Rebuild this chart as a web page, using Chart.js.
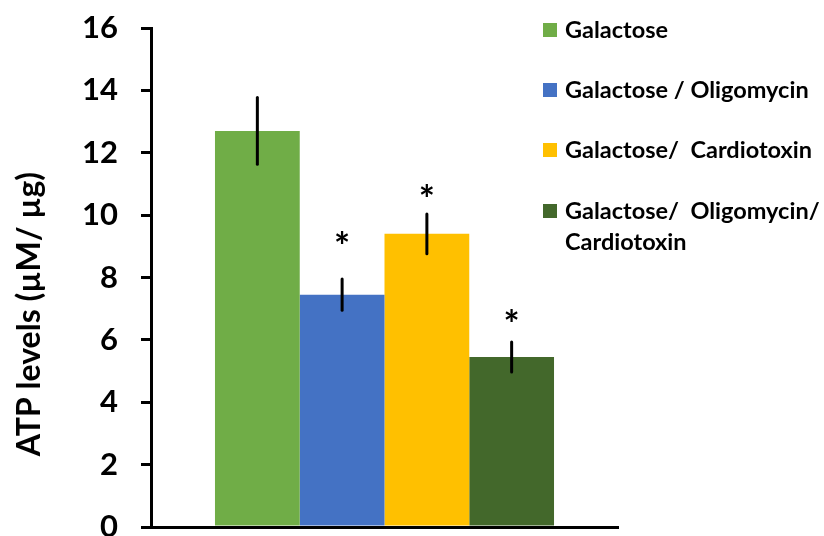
<!DOCTYPE html>
<html>
<head>
<meta charset="utf-8">
<script src="https://cdn.jsdelivr.net/npm/chart.js@4.4.0/dist/chart.umd.min.js"></script>
<style>
  html, body { margin: 0; padding: 0; background: #fff; }
  #wrap { width: 824px; height: 536px; }
</style>
</head>
<body>
<div id="wrap"><canvas id="myChart" width="824" height="536"></canvas></div>
<script>
// groups shown in the legend (last one wraps onto two lines)
const groups = ["Galactose", "Galactose / Oligomycin", "Galactose/  Cardiotoxin", "Galactose/  Oligomycin/ Cardiotoxin"];
const legendLines = [["Galactose"], ["Galactose / Oligomycin"], ["Galactose/  Cardiotoxin"], ["Galactose/  Oligomycin/", "Cardiotoxin"]];
const atpMeans = [12.7, 7.45, 9.4, 5.45];
const atpErrors = [1.07, 0.5, 0.64, 0.48];
const starAt = [null, 9.3, 10.8, 6.8]; // where the "*" sits, in axis units
const barColors = ["#70AD47", "#4472C4", "#FFC000", "#43682B"];
const yMin = 0, yMax = 16, yStep = 2;
const yTitle = "ATP levels (\u00B5M/ \u00B5g)";

const FONT = "Lato";

const extras = {
  id: "extras",
  afterDatasetsDraw(chart) {
    const ctx = chart.ctx;
    const y = chart.scales.y;
    ctx.save();
    // error bars
    ctx.strokeStyle = "#000";
    ctx.lineWidth = 3;
    ctx.lineCap = "round";
    atpMeans.forEach((m, i) => {
      const bar = chart.getDatasetMeta(i).data[0];
      ctx.beginPath();
      ctx.moveTo(bar.x, y.getPixelForValue(m + atpErrors[i]));
      ctx.lineTo(bar.x, y.getPixelForValue(m - atpErrors[i]));
      ctx.stroke();
    });
    // significance stars
    ctx.fillStyle = "#000";
    ctx.font = "bold 38px " + FONT;
    ctx.textAlign = "center";
    ctx.textBaseline = "alphabetic";
    starAt.forEach((v, i) => {
      if (v === null) return;
      const bar = chart.getDatasetMeta(i).data[0];
      const mt = ctx.measureText("*");
      const mid = (mt.actualBoundingBoxAscent - mt.actualBoundingBoxDescent) / 2;
      ctx.fillText("*", bar.x, y.getPixelForValue(v) + mid);
    });
    ctx.restore();
  },
  afterDraw(chart) {
    const ctx = chart.ctx;
    ctx.save();
    // y title
    ctx.fillStyle = "#000";
    ctx.font = "bold 32px " + FONT;
    ctx.textAlign = "center";
    ctx.textBaseline = "middle";
    ctx.translate(30, 314);
    ctx.rotate(-Math.PI / 2);
    ctx.fillText(yTitle, 0, 0);
    ctx.restore();

    // legend
    ctx.save();
    const rows = [30, 90, 150, 211];
    ctx.font = "bold 23.5px " + FONT;
    ctx.textAlign = "left";
    ctx.textBaseline = "middle";
    legendLines.forEach((lines, i) => {
      ctx.fillStyle = barColors[i];
      ctx.fillRect(543, rows[i] - 7, 14, 14);
      ctx.fillStyle = "#000";
      lines.forEach((t, k) => ctx.fillText(t, 565, rows[i] + k * 31));
    });
    ctx.restore();
  }
};

new Chart(document.getElementById("myChart"), {
  type: "bar",
  data: {
    labels: [""],
    datasets: groups.map((g, i) => ({
      label: g,
      data: [atpMeans[i]],
      backgroundColor: barColors[i],
      borderWidth: 0,
      barPercentage: 1,
      categoryPercentage: 0.726
    }))
  },
  options: {
    responsive: false,
    animation: false,
    devicePixelRatio: 1,
    layout: { padding: { left: 0, top: 28, right: 206, bottom: 9 } },
    plugins: { legend: { display: false }, tooltip: { enabled: false } },
    scales: {
      x: {
        grid: { display: false, drawTicks: false },
        ticks: { display: false },
        border: { display: true, color: "#000", width: 3 },
        afterFit(s) { s.height = 0; s.paddingLeft = 0; s.paddingRight = 0; }
      },
      y: {
        min: yMin,
        max: yMax,
        ticks: {
          stepSize: yStep,
          color: "#000",
          padding: 23,
          font: { family: FONT, weight: "bold", size: 31 }
        },
        grid: { display: true, drawOnChartArea: false, drawTicks: true, tickLength: 10, color: "#000", lineWidth: 3 },
        border: { display: true, color: "#000", width: 3 },
        afterFit(s) { s.width = 151; s.paddingTop = 0; s.paddingBottom = 0; }
      }
    }
  },
  plugins: [extras]
});
</script>
</body>
</html>
